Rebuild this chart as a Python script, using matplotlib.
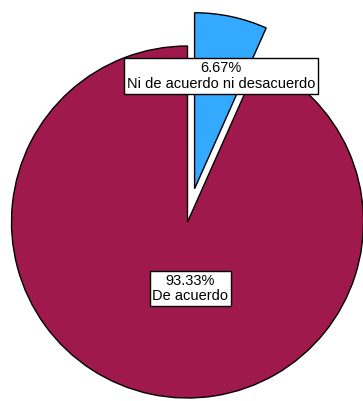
import matplotlib
matplotlib.use("Agg")
import matplotlib.pyplot as plt

# Pie of answers
labels = ["Ni de acuerdo ni desacuerdo", "De acuerdo"]
percents = [6.67, 93.33]
colors = ["#33AAFF", "#A0194C"]

W, H = 363, 401
fig = plt.figure(figsize=(W / 100, H / 100), dpi=100)
ax = fig.add_axes([0, 0, 1, 1])

cx, cy, r = 187.5, H - 222, 176
# explode is given in data units (pixels here), not as a fraction of r
explode = [34, 0]
ax.pie(percents, colors=colors, explode=explode, startangle=90,
       counterclock=False, center=(cx, cy), radius=r,
       wedgeprops=dict(edgecolor="black", linewidth=1.0), frame=True)
ax.set_xlim(0, W)
ax.set_ylim(0, H)
ax.set_aspect("equal")
ax.axis("off")

# label boxes with percentage and category
label_pos = [(221, H - 76), (190.5, H - 288.5)]
for pct, lab, (x, y) in zip(percents, labels, label_pos):
    ax.text(x, y, f"{pct:.2f}%\n{lab}", ha="center", va="center",
            fontsize=10.5, family="Liberation Sans", linespacing=1.15,
            bbox=dict(facecolor="white", edgecolor="black", linewidth=1.0,
                      boxstyle="square,pad=0.2"))

fig.savefig("out.png", dpi=100)
